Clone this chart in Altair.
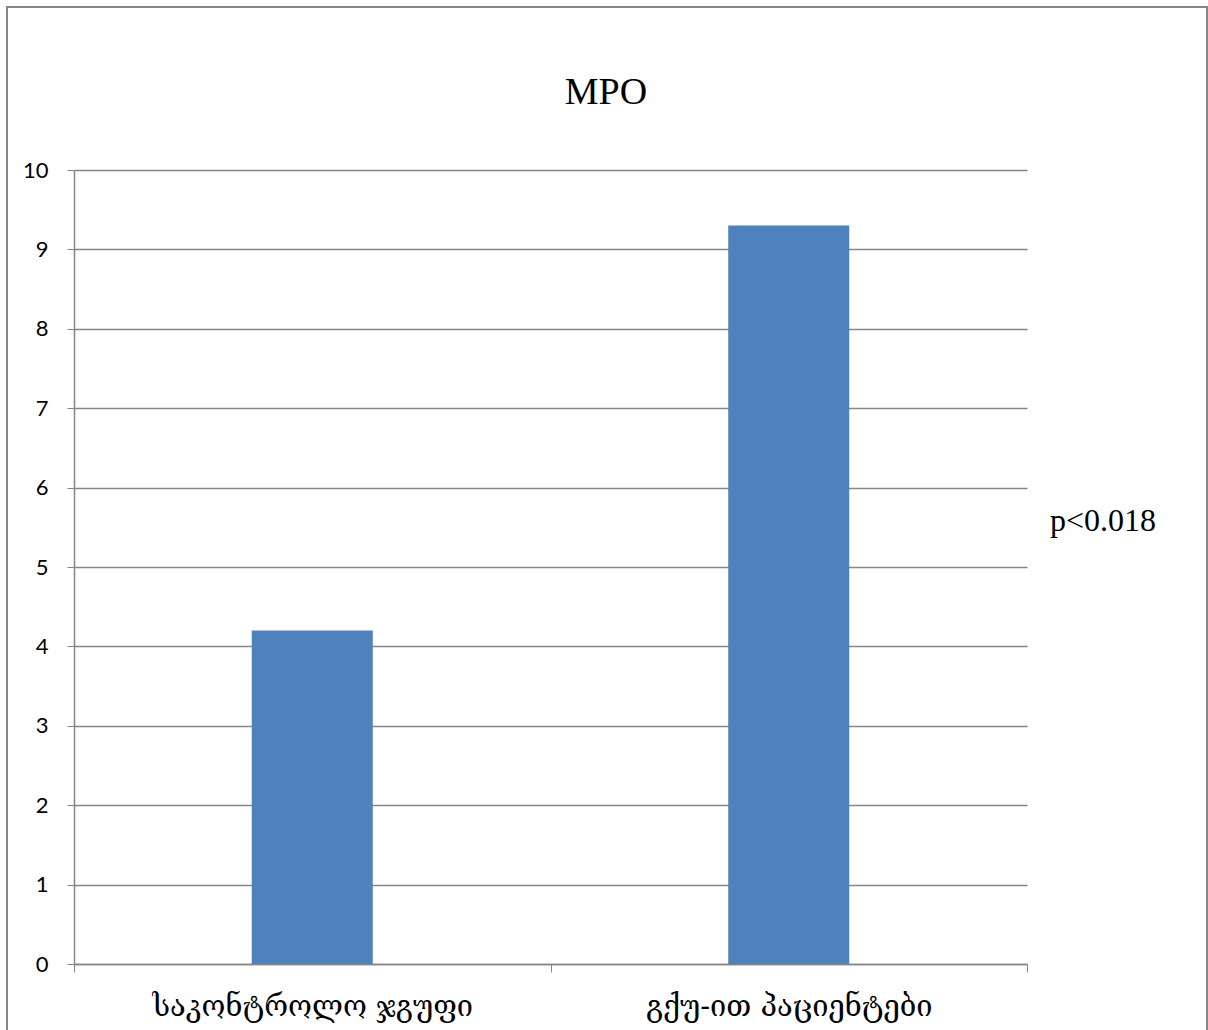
import altair as alt
import pandas as pd

# Mean MPO levels per group
groups = ["საკონტროლო ჯგუფი", "გქუ-ით პაციენტები"]
values = [4.2, 9.3]
y_ticks = [0, 1, 2, 3, 4, 5, 6, 7, 8, 9, 10]
title_text = "MPO"
p_text = "p<0.018"

df = pd.DataFrame({"group": groups, "value": values})

GRID = "#868686"
BAR = "#4F81BD"
W, H = 953, 794

bars = alt.Chart(df).mark_bar(color=BAR, width=alt.RelativeBandSize(0.254)).encode(
    x=alt.X(
        "group:N",
        sort=groups,
        scale=alt.Scale(paddingInner=0, paddingOuter=0),
        axis=alt.Axis(
            title=None,
            labelAngle=0,
            labelLimit=0,
            labelFont="DejaVu Serif",
            labelFontSize=29,
            labelColor="#000000",
            labelPadding=20,
            tickBand="extent",
            tickSize=8,
            tickColor=GRID,
            domainColor=GRID,
            domainWidth=1.5,
            grid=False,
        ),
    ),
    y=alt.Y(
        "value:Q",
        scale=alt.Scale(domain=[0, 10], nice=False),
        axis=alt.Axis(
            title=None,
            values=y_ticks,
            labelFont="Lato",
            labelFontSize=22,
            labelColor="#000000",
            labelPadding=19,
            tickSize=7,
            tickColor=GRID,
            domainColor=GRID,
            domainWidth=1.5,
            gridColor=GRID,
            gridWidth=1.5,
        ),
    ),
)

# Chart-area frame
frame = alt.Chart(df).mark_rect(
    fill=None, stroke=GRID, strokeWidth=2, clip=False
).encode(
    x=alt.value(-67), x2=alt.value(1133), y=alt.value(-163), y2=alt.value(900)
).transform_filter(alt.datum.group == groups[0])

title = alt.Chart(df).mark_text(
    text=title_text, font="Liberation Serif", fontSize=38, color="#000000",
    align="center", baseline="middle"
).encode(x=alt.value(532), y=alt.value(-77)).transform_filter(alt.datum.group == groups[0])

pval = alt.Chart(df).mark_text(
    text=p_text, font="Liberation Serif", fontSize=32, color="#000000",
    align="left", baseline="middle"
).encode(x=alt.value(976), y=alt.value(351)).transform_filter(alt.datum.group == groups[0])

chart = alt.layer(frame, bars, title, pval).properties(
    width=W,
    height=H,
    background="#ffffff",
    autosize=alt.AutoSizeParams(type="none"),
    padding={"left": 74, "top": 170, "right": 181, "bottom": 66},
).configure_view(stroke=None)

chart.save("out.html", embed_options={"renderer": "svg", "actions": False})
